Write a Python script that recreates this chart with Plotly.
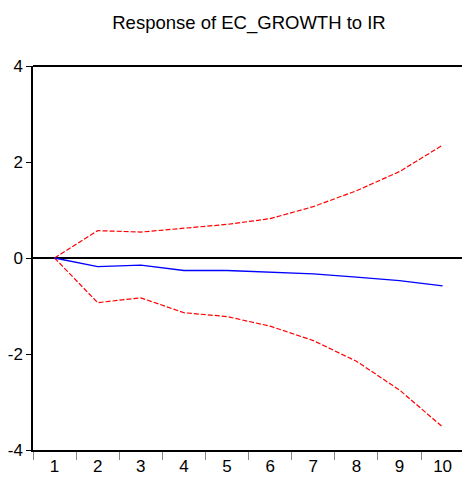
import plotly.graph_objects as go

periods = ["1", "2", "3", "4", "5", "6", "7", "8", "9", "10"]
response = [0.0, -0.18, -0.15, -0.26, -0.26, -0.30, -0.33, -0.40, -0.47, -0.58]
upper = [0.0, 0.57, 0.54, 0.62, 0.70, 0.82, 1.07, 1.40, 1.80, 2.35]
lower = [0.0, -0.93, -0.83, -1.14, -1.22, -1.42, -1.72, -2.15, -2.75, -3.52]
y_ticks = [-4, -2, 0, 2, 4]
y_tick_text = ["-4", "-2", "0", "2", "4"]
title = "Response of EC_GROWTH to IR"

FONT = "Liberation Sans Narrow, Arial Narrow, Liberation Sans, Arial, sans-serif"

fig = go.Figure()
fig.add_trace(go.Scatter(x=periods, y=upper, mode="lines",
                         line=dict(color="#ff0000", width=1.2, dash="5px,2px")))
fig.add_trace(go.Scatter(x=periods, y=lower, mode="lines",
                         line=dict(color="#ff0000", width=1.2, dash="5px,2px")))
fig.add_trace(go.Scatter(x=periods, y=response, mode="lines",
                         line=dict(color="#0000ff", width=1.3)))

fig.update_layout(
    width=462, height=486,
    margin=dict(l=33, r=0, t=66, b=36, autoexpand=False),
    paper_bgcolor="white", plot_bgcolor="white",
    showlegend=False,
    font=dict(family=FONT, size=17, color="black"),
    title=dict(text=title, x=249 / 462, xanchor="center", xref="container",
               yref="container", y=1 - 23 / 486, yanchor="middle",
               font=dict(family=FONT, size=18.5, color="black")),
    xaxis=dict(type="category", range=[-0.5, 9.45], tickson="boundaries",
               ticks="outside", ticklen=8, tickcolor="#888888", tickwidth=1,
               showline=True, linecolor="black", linewidth=1.5,
               showgrid=False, zeroline=False, automargin=False,
               tickfont=dict(family=FONT, size=17)),
    yaxis=dict(range=[-4, 4], tickvals=y_ticks, ticktext=y_tick_text,
               ticks="outside", ticklen=5,
               tickcolor="black", showline=True, linecolor="black", linewidth=1.5,
               showgrid=False, zeroline=True, zerolinecolor="black", zerolinewidth=1.5,
               automargin=False, tickfont=dict(family=FONT, size=17)),
    shapes=[dict(type="line", xref="paper", yref="paper", x0=0, x1=1, y0=1, y1=1,
                 line=dict(color="black", width=2))],
)

fig.write_html("out.html", config={"displayModeBar": False},
               post_script="document.body.style.margin='0';document.body.style.overflow='hidden';")
